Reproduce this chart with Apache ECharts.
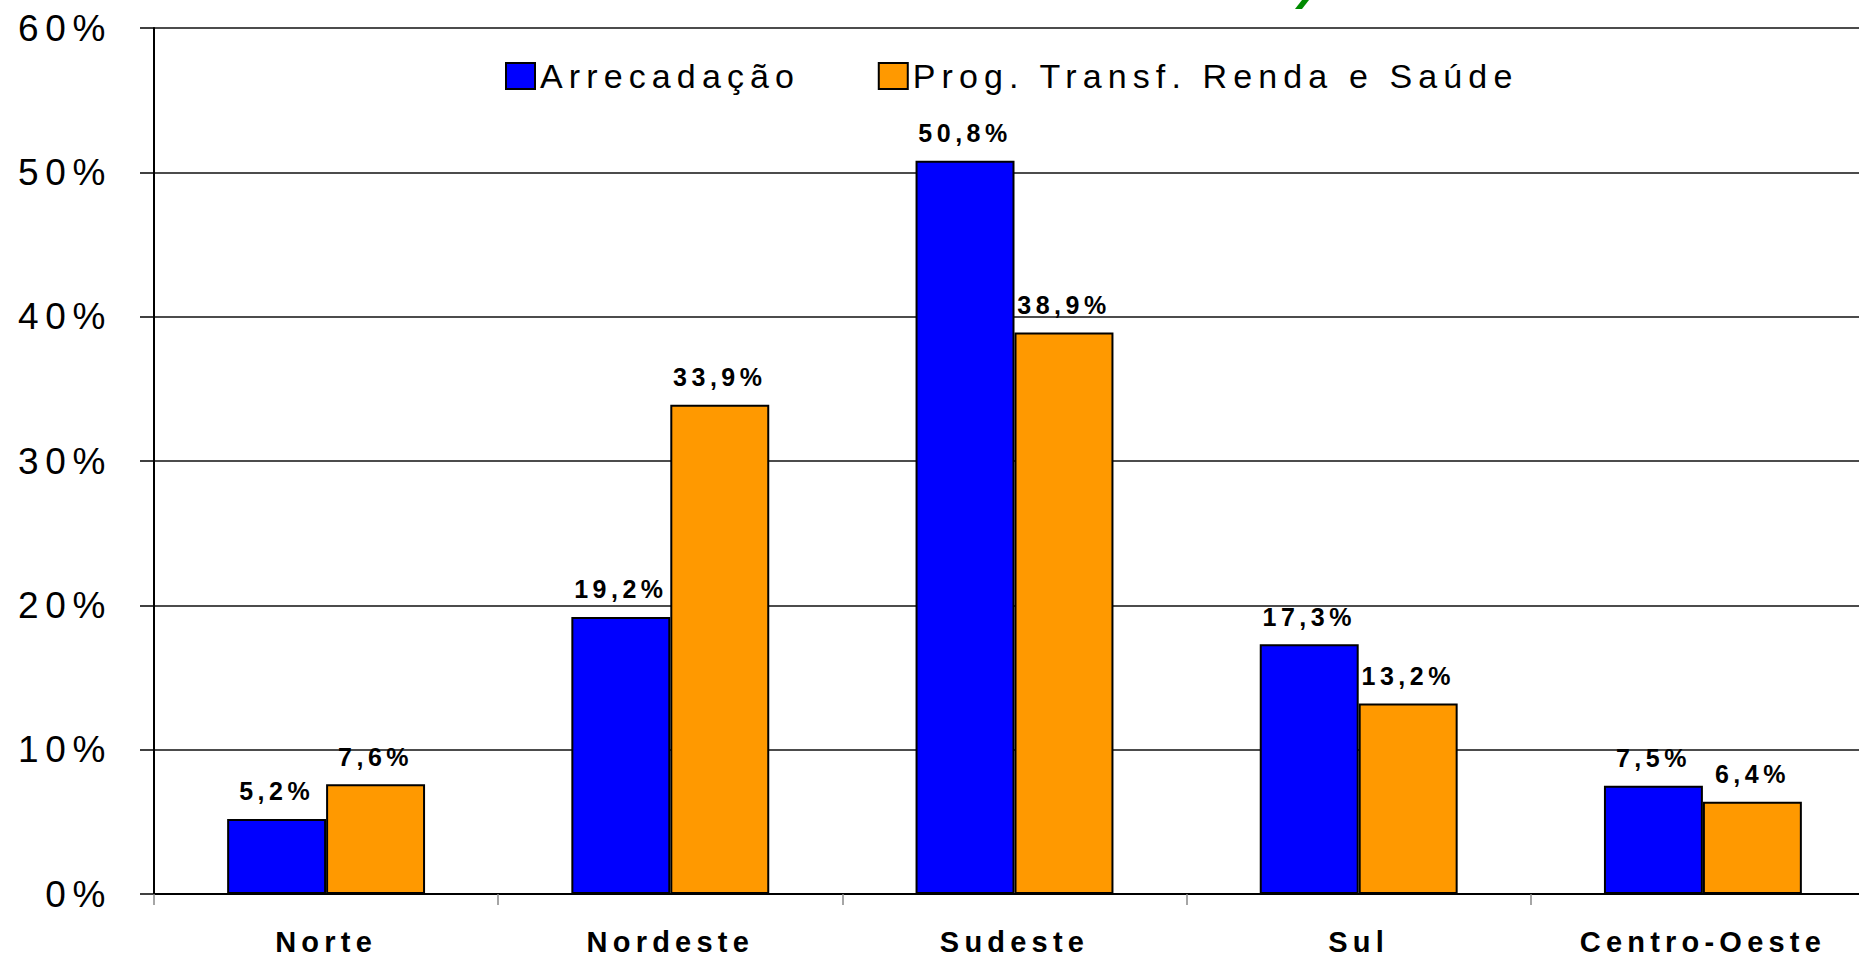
<!DOCTYPE html>
<html>
<head>
<meta charset="utf-8">
<script src="https://cdn.jsdelivr.net/npm/echarts@6.0.0/dist/echarts.min.js"></script>
<style>
    html, body { margin: 0; padding: 0; background: #fff; }
    #regioes { width: 1859px; height: 957px; }
    /* the original chart is drawn with wide letter spacing */
    #regioes text { letter-spacing: 0.18em; }
</style>
</head>
<body>
<div id="regioes"></div>
<script>
    var regioes = ['Norte', 'Nordeste', 'Sudeste', 'Sul', 'Centro-Oeste'];
    var arrecadacao = [5.2, 19.2, 50.8, 17.3, 7.5];
    var progTransf = [7.6, 33.9, 38.9, 13.2, 6.4];
    var nomesSeries = ['Arrecadação', 'Prog. Transf. Renda e Saúde'];
    var coresSeries = ['#0000ff', '#ff9900'];

    var fonte = '"Liberation Sans", Arial, sans-serif';

    var rotulo = {
        show: true,
        position: 'top',
        distance: 15,
        color: '#000',
        fontFamily: fonte,
        fontWeight: 'bold',
        fontSize: 25,
        formatter: function (p) {
            return String(p.value).replace('.', ',') + '%';
        }
    };

    var chart = echarts.init(document.getElementById('regioes'), null, {renderer: 'svg'});
    var option = {
        animation: false,
        backgroundColor: '#fff',
        legend: {
            left: 500,
            top: 54,
            itemWidth: 29,
            itemHeight: 26,
            itemGap: 145,
            icon: 'rect',
            itemStyle: {borderColor: '#000', borderWidth: 2},
            textStyle: {fontFamily: fonte, fontSize: 34, color: '#000'},
            data: nomesSeries
        },
        grid: {
            left: 154,
            top: 28,
            width: 1721,
            height: 866,
            outerBoundsMode: 'none',
            containLabel: false
        },
        xAxis: {
            type: 'category',
            data: regioes,
            axisLine: {lineStyle: {color: '#000', width: 2}},
            axisTick: {show: true, length: 11, lineStyle: {color: '#888', width: 1.5}},
            axisLabel: {
                margin: 33,
                color: '#000',
                fontFamily: fonte,
                fontWeight: 'bold',
                fontSize: 29
            }
        },
        yAxis: {
            type: 'value',
            min: 0,
            max: 60,
            interval: 10,
            axisLine: {show: true, lineStyle: {color: '#000', width: 2}},
            axisTick: {show: true, length: 14, lineStyle: {color: '#000', width: 1.5}},
            splitLine: {lineStyle: {color: '#111', width: 1.5}},
            axisLabel: {
                margin: 42,
                color: '#000',
                fontFamily: fonte,
                fontSize: 37,
                formatter: '{value}%'
            }
        },
        series: [
            {
                name: nomesSeries[0],
                type: 'bar',
                data: arrecadacao,
                barGap: '0%',
                barCategoryGap: '42.5%',
                itemStyle: {color: coresSeries[0], borderColor: '#000', borderWidth: 2},
                label: rotulo
            },
            {
                name: nomesSeries[1],
                type: 'bar',
                data: progTransf,
                barGap: '0%',
                barCategoryGap: '42.5%',
                itemStyle: {color: coresSeries[1], borderColor: '#000', borderWidth: 2},
                label: rotulo
            }
        ],
        graphic: [{
            // pedaço do título verde cortado no topo
            type: 'polygon',
            shape: {points: [[1302, 0], [1309, 0], [1302, 9], [1295, 9]]},
            style: {fill: '#008a00'}
        }]
    };
    chart.setOption(option);
</script>
</body>
</html>
